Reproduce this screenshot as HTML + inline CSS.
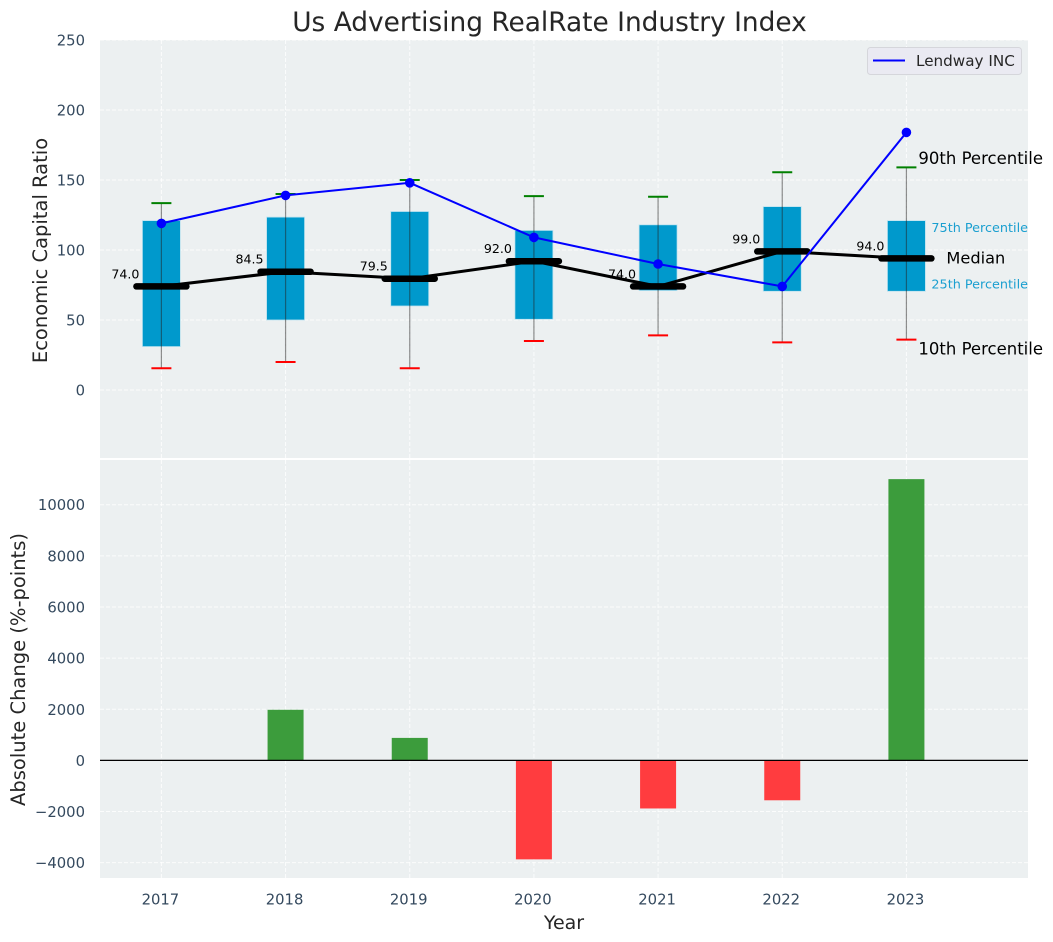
<!DOCTYPE html>
<html lang="en">
<head>
<meta charset="utf-8">
<title>Us Advertising RealRate Industry Index</title>
<style>
html,body{margin:0;padding:0;background:#fff;}
svg{display:block;font-family:"DejaVu Sans","Liberation Sans",sans-serif;}
</style>
</head>
<body>
<svg id="chart" xmlns="http://www.w3.org/2000/svg" width="1053" height="942" viewBox="0 0 1053 942">
<rect x="0" y="0" width="1053" height="942" fill="#ffffff"/>
<rect x="100" y="40" width="928" height="418" fill="#ecf0f1"/>
<rect x="100" y="460" width="928" height="418" fill="#ecf0f1"/>
<text x="549.5" y="31" text-anchor="middle" font-size="26.4" fill="#262626">Us Advertising RealRate Industry Index</text>
<text transform="translate(47,250.5) rotate(-90)" text-anchor="middle" font-size="19.5" fill="#262626">Economic Capital Ratio</text>
<text transform="translate(25,669.5) rotate(-90)" text-anchor="middle" font-size="19.5" fill="#262626">Absolute Change (%-points)</text>
<text x="564" y="929" text-anchor="middle" font-size="19" fill="#262626">Year</text>
<g id="grid"></g>
<g id="ticks"></g>
<g id="bars"></g>
<g id="boxes"></g>
<g id="lines"></g>
<g id="notes"></g>
<g>
<rect x="867.5" y="47.5" width="154" height="27" rx="3" fill="#eaeaf2" stroke="#d5d6db" stroke-width="1"/>
<line x1="873" y1="60.5" x2="905" y2="60.5" stroke="#0000ff" stroke-width="2"/>
<text x="916" y="66" font-size="15.2" fill="#262626">Lendway INC</text>
</g>
</svg>
<script>
const years = [2017, 2018, 2019, 2020, 2021, 2022, 2023];
const p90 = [133.5, 140, 150, 138.5, 138, 155.5, 159];
const p75 = [121, 123.5, 127.5, 114, 118, 131, 121];
const median = [74, 84.5, 79.5, 92, 74, 99, 94];
const p25 = [31, 50, 60, 50.5, 71, 70.5, 70.5];
const p10 = [15.5, 20, 15.5, 35, 39, 34, 36];
const company = [119, 139, 148, 109, 90, 74, 184];
const change = [0, 1980, 880, -3870, -1880, -1560, 11000];
const topTicks = [0, 50, 100, 150, 200, 250];
const bottomTicks = [-4000, -2000, 0, 2000, 4000, 6000, 8000, 10000];

const NS = 'http://www.w3.org/2000/svg';
function xScale(v) { return 161.4 + (v - 2017) * 124.17; }
function yTop(v) { return 390 - v * 1.4; }
function yBottom(v) { return 760.4 - v * 0.02557; }

function make(parent, tag, props, txt) {
  const el = document.createElementNS(NS, tag);
  for (const k in props) el.setAttribute(k, props[k]);
  if (txt !== undefined) el.textContent = txt;
  document.getElementById(parent).appendChild(el);
  return el;
}
const gridStyle = { stroke: '#ffffff', 'stroke-width': 1, 'stroke-dasharray': '4 2', 'stroke-opacity': 0.8 };
const L = 100, R = 1028;

topTicks.forEach(function (t) {
  const g = make('grid', 'line', Object.assign({ x1: L, x2: R, y1: yTop(t), y2: yTop(t) }, gridStyle));
  
  
  const lab = make('ticks', 'text', { x: 85, y: yTop(t) + 5.5, 'text-anchor': 'end', 'font-size': 14.8, fill: '#34495e' }, String(t));
  
  
});
bottomTicks.forEach(function (t) {
  const g = make('grid', 'line', Object.assign({ x1: L, x2: R, y1: yBottom(t), y2: yBottom(t) }, gridStyle));
  
  
  const lab = make('ticks', 'text', { x: 85, y: yBottom(t) + 5.5, 'text-anchor': 'end', 'font-size': 14.8, fill: '#34495e' }, String(t).replace('-', '\u2212'));
  
  
});
years.forEach(function (yr) {
  const cx = xScale(yr);
  const g1 = make('grid', 'line', Object.assign({ x1: cx, x2: cx, y1: 40, y2: 458 }, gridStyle));
  
  
  const g2 = make('grid', 'line', Object.assign({ x1: cx, x2: cx, y1: 460, y2: 878 }, gridStyle));
  
  
  const lab = make('ticks', 'text', { x: cx - 1, y: 904.5, 'text-anchor': 'middle', 'font-size': 14.8, fill: '#34495e' }, String(yr));
  
  
});

change.forEach(function (v, i) {
  if (v === 0) return;
  const cx = xScale(years[i]);
  const y0 = yBottom(0), y1 = yBottom(v);
  const b = make('bars', 'rect', {
    x: cx - 18, width: 36, y: Math.min(y0, y1), height: Math.abs(y1 - y0),
    fill: v >= 0 ? '#3c9c3c' : '#ff3c3f'
  });
  
  
});
const zero = make('bars', 'line', { x1: L, x2: R, y1: yBottom(0), y2: yBottom(0), stroke: '#000000', 'stroke-width': 1.2 });



years.forEach(function (yr, i) {
  const cx = xScale(yr);
  const box = make('boxes', 'rect', {
    x: cx - 19, width: 38, y: yTop(p75[i]), height: yTop(p25[i]) - yTop(p75[i]),
    fill: '#0099cc', stroke: '#bfe3ef', 'stroke-width': 0.8
  });
  
  
  const w = make('boxes', 'line', { x1: cx, x2: cx, y1: yTop(p90[i]), y2: yTop(p10[i]), stroke: '#222222', 'stroke-opacity': 0.5, 'stroke-width': 1.2 });
  
  
  const hi = make('boxes', 'line', { x1: cx - 10, x2: cx + 10, y1: yTop(p90[i]), y2: yTop(p90[i]), stroke: '#008000', 'stroke-width': 2 });
  
  
  const lo = make('boxes', 'line', { x1: cx - 10, x2: cx + 10, y1: yTop(p10[i]), y2: yTop(p10[i]), stroke: '#ff0000', 'stroke-width': 2 });
  
  
  const lab = make('notes', 'text', { x: cx - 22, y: yTop(median[i]) - 8, 'text-anchor': 'end', 'font-size': 12.6, fill: '#000000' }, median[i].toFixed(1));
  
  
});

const medLine = make('lines', 'polyline', {
  points: years.map(function (yr, i) { return xScale(yr) + ',' + yTop(median[i]); }).join(' '),
  fill: 'none', stroke: '#000000', 'stroke-width': 3
});


years.forEach(function (yr, i) {
  const cx = xScale(yr);
  const s = make('lines', 'line', { x1: cx - 25, x2: cx + 25, y1: yTop(median[i]), y2: yTop(median[i]), stroke: '#000000', 'stroke-width': 6.5, 'stroke-linecap': 'round' });
  
  
});
const compLine = make('lines', 'polyline', {
  points: years.map(function (yr, i) { return xScale(yr) + ',' + yTop(company[i]); }).join(' '),
  fill: 'none', stroke: '#0000ff', 'stroke-width': 2
});


years.forEach(function (yr, i) {
  const d = make('lines', 'circle', { cx: xScale(yr), cy: yTop(company[i]), r: 4.8, fill: '#0000ff' });
  
  
});

const last = years.length - 1;
const lx = xScale(years[last]);
const n90 = make('notes', 'text', { x: lx + 12, y: yTop(p90[last]) - 3.5, 'font-size': 16.5, fill: '#000000' }, '90th Percentile');


const n75 = make('notes', 'text', { x: lx + 25, y: yTop(p75[last]) + 11.5, 'font-size': 12.8, fill: '#1a9fd0' }, '75th Percentile');


const nMed = make('notes', 'text', { x: lx + 40, y: yTop(median[last]) + 5, 'font-size': 16.2, fill: '#000000' }, 'Median');


const n25 = make('notes', 'text', { x: lx + 25, y: yTop(p25[last]) - 3, 'font-size': 12.8, fill: '#1a9fd0' }, '25th Percentile');


const n10 = make('notes', 'text', { x: lx + 12, y: yTop(p10[last]) + 15, 'font-size': 16.5, fill: '#000000' }, '10th Percentile');


</script>
</body>
</html>
